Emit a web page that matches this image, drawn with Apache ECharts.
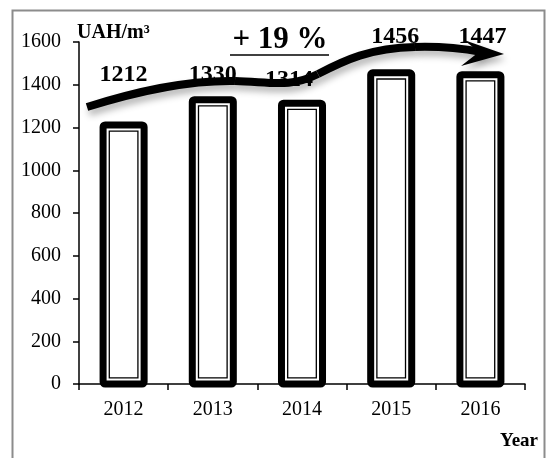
<!DOCTYPE html>
<html>
<head>
<meta charset="utf-8">
<script src="https://cdn.jsdelivr.net/npm/echarts@6/dist/echarts.min.js"></script>
<style>
  html, body { margin: 0; padding: 0; background: #fff; }
  #chart { width: 548px; height: 458px; }
</style>
</head>
<body>
<div id="chart"></div>
<script>
// Average price per cubic metre, by year
const years = ['2012', '2013', '2014', '2015', '2016'];
const prices = [1212, 1330, 1314, 1456, 1447];
const yMin = 0, yMax = 1600, yStep = 200;
const growthText = '+ 19 %';
const unitText = 'UAH/m³';
const axisName = 'Year';

// label placement relative to each bar top: [dx, lift]
const labelNudge = [[0, 50], [0, 25], [-13, 23], [4, 36], [2, 38]];

const SERIF = '"Liberation Serif", "Times New Roman", serif';

function renderBar(params, api) {
  const idx = api.value(0);
  const top = api.coord([idx, api.value(1)]);
  const base = api.coord([idx, 0]);
  const w = api.size([1, 0])[0] * 0.46;
  const x = top[0] - w / 2;
  const y = top[1];
  const h = base[1] - top[1];
  const inset = 6.2;
  const nudge = labelNudge[params.dataIndex];
  return {
    type: 'group',
    children: [
      {
        type: 'rect',
        shape: { x: x, y: y, width: w, height: h, r: 2 },
        style: { fill: '#fff', stroke: '#000', lineWidth: 7 }
      },
      {
        type: 'rect',
        shape: { x: x + inset, y: y + inset, width: w - 2 * inset, height: h - 2 * inset },
        style: { fill: 'none', stroke: '#000', lineWidth: 1.3 }
      },
      {
        type: 'text',
        x: top[0] + nudge[0],
        y: top[1] - nudge[1],
        style: {
          text: String(api.value(1)),
          font: 'bold 24px ' + SERIF,
          fill: '#000',
          align: 'center',
          verticalAlign: 'middle'
        }
      }
    ]
  };
}

// shadowed stroke style shared by the arrow pieces
const arrowShadow = { shadowBlur: 7, shadowColor: 'rgba(0,0,0,0.3)', shadowOffsetX: 2, shadowOffsetY: 5 };
function arrowSegment(p0, c1, c2, p1) {
  return {
    type: 'bezierCurve',
    z: 60,
    shape: { x1: p0[0], y1: p0[1], cpx1: c1[0], cpy1: c1[1], cpx2: c2[0], cpy2: c2[1], x2: p1[0], y2: p1[1] },
    style: Object.assign({ fill: null, stroke: '#000', lineWidth: 8, lineCap: 'butt' }, arrowShadow)
  };
}

const chart = echarts.init(document.getElementById('chart'), null, { renderer: 'canvas' });

chart.setOption({
  animation: false,
  backgroundColor: '#fff',
  grid: { left: 79, right: 23, top: 42, bottom: 74 },
  xAxis: {
    type: 'category',
    data: years,
    boundaryGap: true,
    axisLine: { lineStyle: { color: '#000', width: 1.5 } },
    axisTick: { show: true, length: 6, lineStyle: { color: '#000', width: 1.5 } },
    axisLabel: { color: '#000', fontFamily: SERIF, fontSize: 20, margin: 16 }
  },
  yAxis: {
    type: 'value',
    min: yMin,
    max: yMax,
    interval: yStep,
    splitLine: { show: false },
    axisLine: { show: true, lineStyle: { color: '#000', width: 1.5 } },
    axisTick: { show: true, length: 6, lineStyle: { color: '#000', width: 1.5 } },
    axisLabel: {
      color: '#000', fontFamily: SERIF, fontSize: 20, margin: 18,
      formatter: (v) => String(v)
    }
  },
  series: [{
    type: 'custom',
    renderItem: renderBar,
    encode: { x: 0, y: 1 },
    data: prices.map((v, i) => [i, v]),
    z: 2
  }],
  graphic: [
    // outer frame
    {
      type: 'rect',
      z: 0,
      shape: { x: 12.5, y: 10.5, width: 532, height: 470 },
      style: { fill: 'none', stroke: '#8c8c8c', lineWidth: 2 }
    },
    {
      type: 'text',
      z: 50,
      x: 77, y: 33,
      style: { text: unitText, font: 'bold 20px ' + SERIF, fill: '#000', verticalAlign: 'middle' }
    },
    {
      type: 'text',
      z: 50,
      x: 538, y: 441,
      style: { text: axisName, font: 'bold 19px ' + SERIF, fill: '#000', align: 'right', verticalAlign: 'middle' }
    },
    {
      type: 'text',
      z: 50,
      x: 280, y: 40,
      style: { text: growthText, font: 'bold 31px ' + SERIF, fill: '#000', align: 'center', verticalAlign: 'middle' }
    },
    {
      type: 'line',
      z: 50,
      shape: { x1: 230, y1: 55, x2: 329, y2: 55 },
      style: { stroke: '#000', lineWidth: 1.6 }
    },
    // growth arrow
    arrowSegment([87, 107], [135, 92], [185, 80], [235, 81]),
    arrowSegment([235, 81], [272, 82], [290, 88], [318, 74]),
    arrowSegment([318, 74], [345, 60], [370, 48], [415, 47]),
    arrowSegment([415, 47], [445, 46], [465, 49], [482, 52]),
    {
      type: 'polygon',
      z: 61,
      shape: { points: [[504, 54], [464, 40], [479, 52], [461, 66]] },
      style: Object.assign({ fill: '#000' }, arrowShadow)
    }
  ]
});
</script>
</body>
</html>
